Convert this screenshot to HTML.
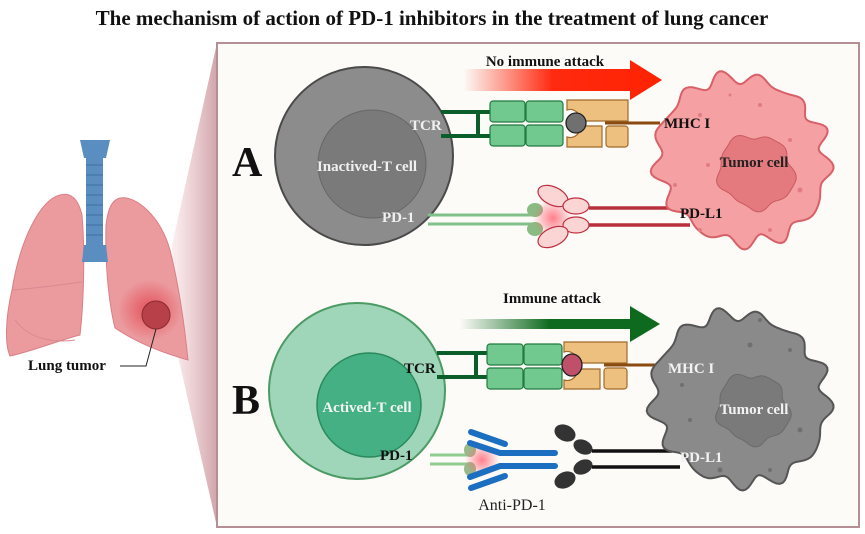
<!DOCTYPE html>
<html><head><meta charset="utf-8"><style>
html,body{margin:0;padding:0;background:#fff;width:865px;height:534px;overflow:hidden}
svg{display:block}
text{font-family:"Liberation Serif",serif}
</style></head><body>
<svg width="865" height="534" viewBox="0 0 865 534" xmlns="http://www.w3.org/2000/svg">
<defs>
<linearGradient id="funnel" x1="0" x2="1" y1="0" y2="0">
<stop offset="0" stop-color="#e8aeb4" stop-opacity="0.2"/><stop offset="1" stop-color="#c99ca2" stop-opacity="0.9"/></linearGradient>
<linearGradient id="redarr" x1="0" x2="1"><stop offset="0" stop-color="#ff2a10" stop-opacity="0"/><stop offset="0.45" stop-color="#ff2a10"/><stop offset="1" stop-color="#ff2200"/></linearGradient>
<linearGradient id="grnarr" x1="0" x2="1"><stop offset="0" stop-color="#0e6a1e" stop-opacity="0"/><stop offset="0.45" stop-color="#0e6a1e"/><stop offset="1" stop-color="#0e6a1e"/></linearGradient>
<radialGradient id="glow"><stop offset="0" stop-color="#ff6070" stop-opacity="0.8"/><stop offset="1" stop-color="#ff6070" stop-opacity="0"/></radialGradient>
<radialGradient id="lglow"><stop offset="0" stop-color="#e0303a" stop-opacity="0.7"/><stop offset="1" stop-color="#e0303a" stop-opacity="0"/></radialGradient>
</defs>
<text x="432" y="25" font-size="21" font-weight="bold" text-anchor="middle" fill="#111">The mechanism of action of PD-1 inhibitors in the treatment of lung cancer</text>

<polygon points="172,245 217,43 217,527 172,330" fill="url(#funnel)"/>
<rect x="217" y="43" width="642" height="484" fill="#fcfbf8" stroke="#b58f93" stroke-width="2"/>

<!-- lungs -->
<path d="M60,195 C40,200 20,240 12,290 C5,320 5,345 10,356 C30,352 60,340 80,335 C84,300 85,250 82,215 C78,198 70,192 60,195Z" fill="#eb9a9e" stroke="#d98088" stroke-width="1"/>
<path d="M120,198 C135,195 160,215 170,250 C180,290 185,330 188,360 C170,355 140,345 115,328 C108,300 105,260 106,225 C108,208 112,200 120,198Z" fill="#eb9a9e" stroke="#d98088" stroke-width="1"/>
<ellipse cx="150" cy="310" rx="32" ry="30" fill="url(#lglow)"/>
<path d="M12,290 C40,288 60,285 82,282" stroke="#d98a90" fill="none"/>
<path d="M15,320 C30,340 55,343 75,340" stroke="#d98a90" fill="none"/>
<rect x="86" y="150" width="17" height="100" rx="5" fill="#5b8ec0"/>
<g stroke="#3f6f9f" stroke-width="1">
<line x1="86" y1="165" x2="103" y2="165"/><line x1="86" y1="175" x2="103" y2="175"/><line x1="86" y1="185" x2="103" y2="185"/><line x1="86" y1="195" x2="103" y2="195"/><line x1="86" y1="205" x2="103" y2="205"/><line x1="86" y1="215" x2="103" y2="215"/><line x1="86" y1="225" x2="103" y2="225"/><line x1="86" y1="235" x2="103" y2="235"/></g>
<path d="M80,140 L110,140 L106,158 L84,158Z" fill="#5b8ec0"/>
<path d="M84,245 L106,245 L108,262 L82,262Z" fill="#5b8ec0"/>
<circle cx="156" cy="315" r="14" fill="#b84048" stroke="#8a2a30"/>
<text x="28" y="370" font-size="15" font-weight="bold" fill="#111">Lung tumor</text>
<polyline points="120,366 146,366 156,329" fill="none" stroke="#222" stroke-width="1"/>

<text x="232" y="176" font-size="42" font-weight="bold" fill="#111">A</text>
<text x="232" y="414" font-size="42" font-weight="bold" fill="#111">B</text>

<!-- A section -->
<path d="M463,69 L630,69 L630,60 L662,80 L630,100 L630,91 L463,91Z" fill="url(#redarr)"/>
<text x="545" y="66" font-size="15" font-weight="bold" text-anchor="middle" fill="#111">No immune attack</text>
<circle cx="364" cy="156" r="89" fill="#8c8c8c" stroke="#4a4a4a" stroke-width="2"/>
<circle cx="372" cy="164" r="54" fill="#7a7a7a" stroke="#666" stroke-width="1"/>
<text x="367" y="171" font-size="15" font-weight="bold" text-anchor="middle" fill="#f0f0f0">Inactived-T cell</text>
<text x="410" y="130" font-size="15" font-weight="bold" fill="#f0f0f0">TCR</text>
<text x="382" y="222" font-size="15" font-weight="bold" fill="#f0f0f0">PD-1</text>
<g stroke="#0b5e2a" stroke-width="4"><line x1="441" y1="112" x2="492" y2="112"/><line x1="441" y1="136" x2="492" y2="136"/><line x1="478" y1="112" x2="478" y2="136"/></g>
<g fill="#72c98f" stroke="#237a42" stroke-width="1.2">
<rect x="490" y="101" width="35" height="21" rx="3"/><rect x="526" y="101" width="37" height="21" rx="3"/>
<rect x="490" y="125" width="35" height="21" rx="3"/><rect x="526" y="125" width="37" height="21" rx="3"/></g>
<g fill="#eec080" stroke="#a06a2a" stroke-width="1.2">
<path d="M567,100 H628 V121 H580 A10,10 0 0 0 567,110Z"/>
<path d="M567,137 A10,10 0 0 0 580,126 H602 V147 H567Z"/>
<rect x="606" y="126" width="22" height="21" rx="3"/></g>
<line x1="605" y1="123" x2="660" y2="123" stroke="#8a4a10" stroke-width="3"/>
<ellipse cx="576" cy="123" rx="10" ry="10" fill="#707070" stroke="#222" stroke-width="1.3"/>
<g stroke="#82c08a" stroke-width="3"><line x1="428" y1="215" x2="533" y2="215"/><line x1="428" y1="224" x2="533" y2="224"/></g>
<ellipse cx="535" cy="210" rx="8" ry="7" fill="#8abb82"/><ellipse cx="535" cy="229" rx="8" ry="7" fill="#8abb82"/>
<circle cx="553" cy="218" r="20" fill="url(#glow)"/>
<g fill="#fbd4d4" stroke="#c03040" stroke-width="1.2">
<ellipse cx="553" cy="196" rx="16" ry="9" transform="rotate(25 553 196)"/>
<ellipse cx="576" cy="206" rx="13" ry="8"/>
<ellipse cx="576" cy="225" rx="13" ry="8"/>
<ellipse cx="553" cy="237" rx="16" ry="9" transform="rotate(-25 553 237)"/></g>
<g stroke="#b8303c" stroke-width="3.5"><line x1="589" y1="208" x2="690" y2="208"/><line x1="589" y1="225" x2="690" y2="225"/></g>
<path id="tumA" fill="#f5a0a2" stroke="#d86068" stroke-width="2"/>
<path id="nucA" fill="#e57a7e" stroke="#c85a62" stroke-width="1"/>
<g fill="#e27c82"><circle cx="700" cy="115" r="2"/><circle cx="760" cy="105" r="2"/><circle cx="790" cy="140" r="2"/><circle cx="800" cy="190" r="2.5"/><circle cx="770" cy="230" r="2"/><circle cx="700" cy="230" r="2"/><circle cx="675" cy="185" r="2"/><circle cx="708" cy="165" r="2"/><circle cx="730" cy="95" r="1.5"/></g>
<text x="664" y="128" font-size="15" font-weight="bold" fill="#111">MHC I</text>
<text x="754" y="167" font-size="15" font-weight="bold" text-anchor="middle" fill="#222">Tumor cell</text>
<text x="680" y="218" font-size="15" font-weight="bold" fill="#111">PD-L1</text>

<!-- B section -->
<path d="M460,319 L630,319 L630,306 L660,324 L630,342 L630,329 L460,329Z" fill="url(#grnarr)"/>
<text x="552" y="303" font-size="15" font-weight="bold" text-anchor="middle" fill="#111">Immune attack</text>
<circle cx="357" cy="391" r="88" fill="#9fd5b8" stroke="#4c9a64" stroke-width="2"/>
<circle cx="369" cy="405" r="52" fill="#44b083" stroke="#2a8a5c" stroke-width="1.5"/>
<text x="367" y="412" font-size="15" font-weight="bold" text-anchor="middle" fill="#f4f4f4">Actived-T cell</text>
<text x="404" y="373" font-size="15" font-weight="bold" fill="#111">TCR</text>
<text x="380" y="460" font-size="15" font-weight="bold" fill="#111">PD-1</text>
<g stroke="#0b5e2a" stroke-width="4"><line x1="437" y1="353" x2="490" y2="353"/><line x1="437" y1="377" x2="490" y2="377"/><line x1="476" y1="353" x2="476" y2="377"/></g>
<g fill="#72c98f" stroke="#237a42" stroke-width="1.2">
<rect x="487" y="344" width="36" height="21" rx="3"/><rect x="524" y="344" width="38" height="21" rx="3"/>
<rect x="487" y="368" width="36" height="21" rx="3"/><rect x="524" y="368" width="38" height="21" rx="3"/></g>
<g fill="#eec080" stroke="#a06a2a" stroke-width="1.2">
<path d="M564,342 H627 V363 H577 A10,10 0 0 0 564,352Z"/>
<path d="M564,380 A10,10 0 0 0 577,369 H600 V389 H564Z"/>
<rect x="604" y="368" width="23" height="21" rx="3"/></g>
<line x1="604" y1="365" x2="662" y2="365" stroke="#8a4a10" stroke-width="3"/>
<ellipse cx="572" cy="365" rx="10" ry="11" fill="#c0506a" stroke="#222" stroke-width="1.3"/>
<g stroke="#8fcc90" stroke-width="3"><line x1="430" y1="455" x2="470" y2="455"/><line x1="430" y1="464" x2="470" y2="464"/></g>
<ellipse cx="470" cy="450" rx="6" ry="7" fill="#9ab98a"/><ellipse cx="470" cy="469" rx="6" ry="7" fill="#9ab98a"/>
<circle cx="482" cy="460" r="17" fill="url(#glow)"/>
<g stroke="#1c6fc0" stroke-width="6" stroke-linecap="round" fill="none">
<line x1="471" y1="432" x2="505" y2="444"/><line x1="471" y1="488" x2="505" y2="476"/>
<polyline points="470,443 500,453 555,453"/><polyline points="470,477 500,466 555,466"/></g>
<g fill="#333"><ellipse cx="565" cy="433" rx="11" ry="8" transform="rotate(25 565 433)"/><ellipse cx="583" cy="447" rx="10" ry="7" transform="rotate(25 583 447)"/>
<ellipse cx="565" cy="480" rx="11" ry="8" transform="rotate(-25 565 480)"/><ellipse cx="583" cy="467" rx="10" ry="7" transform="rotate(-25 583 467)"/></g>
<g stroke="#111" stroke-width="3.5"><line x1="592" y1="451" x2="672" y2="451"/><line x1="592" y1="467" x2="680" y2="467"/></g>
<path id="tumB" fill="#8a8a8a" stroke="#555" stroke-width="2"/>
<path id="nucB" fill="#7a7a7a" stroke="#6a6a6a" stroke-width="1"/>
<g fill="#6f6f6f"><circle cx="690" cy="420" r="2"/><circle cx="750" cy="345" r="2.5"/><circle cx="790" cy="350" r="2"/><circle cx="800" cy="430" r="2.5"/><circle cx="770" cy="470" r="2"/><circle cx="720" cy="470" r="2.5"/><circle cx="682" cy="385" r="2"/><circle cx="760" cy="320" r="2"/></g>
<text x="668" y="373" font-size="15" font-weight="bold" fill="#f2f2f2">MHC I</text>
<text x="754" y="414" font-size="15" font-weight="bold" text-anchor="middle" fill="#f2f2f2">Tumor cell</text>
<text x="680" y="462" font-size="15" font-weight="bold" fill="#f2f2f2">PD-L1</text>
<text x="512" y="510" font-size="16" text-anchor="middle" fill="#222">Anti-PD-1</text>
</svg>
<script>
function wavy(cx,cy,r,amp,n){var d="";var N=200;for(var i=0;i<=N;i++){var t=i/N*2*Math.PI;var rr=r+amp*Math.sin(n*t)+amp*0.5*Math.sin((n+4)*t+1)+amp*0.6*Math.sin(2*t+0.5);var x=cx+rr*Math.cos(t),y=cy+rr*Math.sin(t);d+=(i?"L":"M")+x.toFixed(1)+","+y.toFixed(1);}return d+"Z";}
document.getElementById("tumA").setAttribute("d",wavy(742,160,84,5,13));
document.getElementById("nucA").setAttribute("d",wavy(756,172,37,2.5,5));
document.getElementById("tumB").setAttribute("d",wavy(740,399,86,5,13));
document.getElementById("nucB").setAttribute("d",wavy(753,409,35,2.5,5));
</script>
</body></html>
